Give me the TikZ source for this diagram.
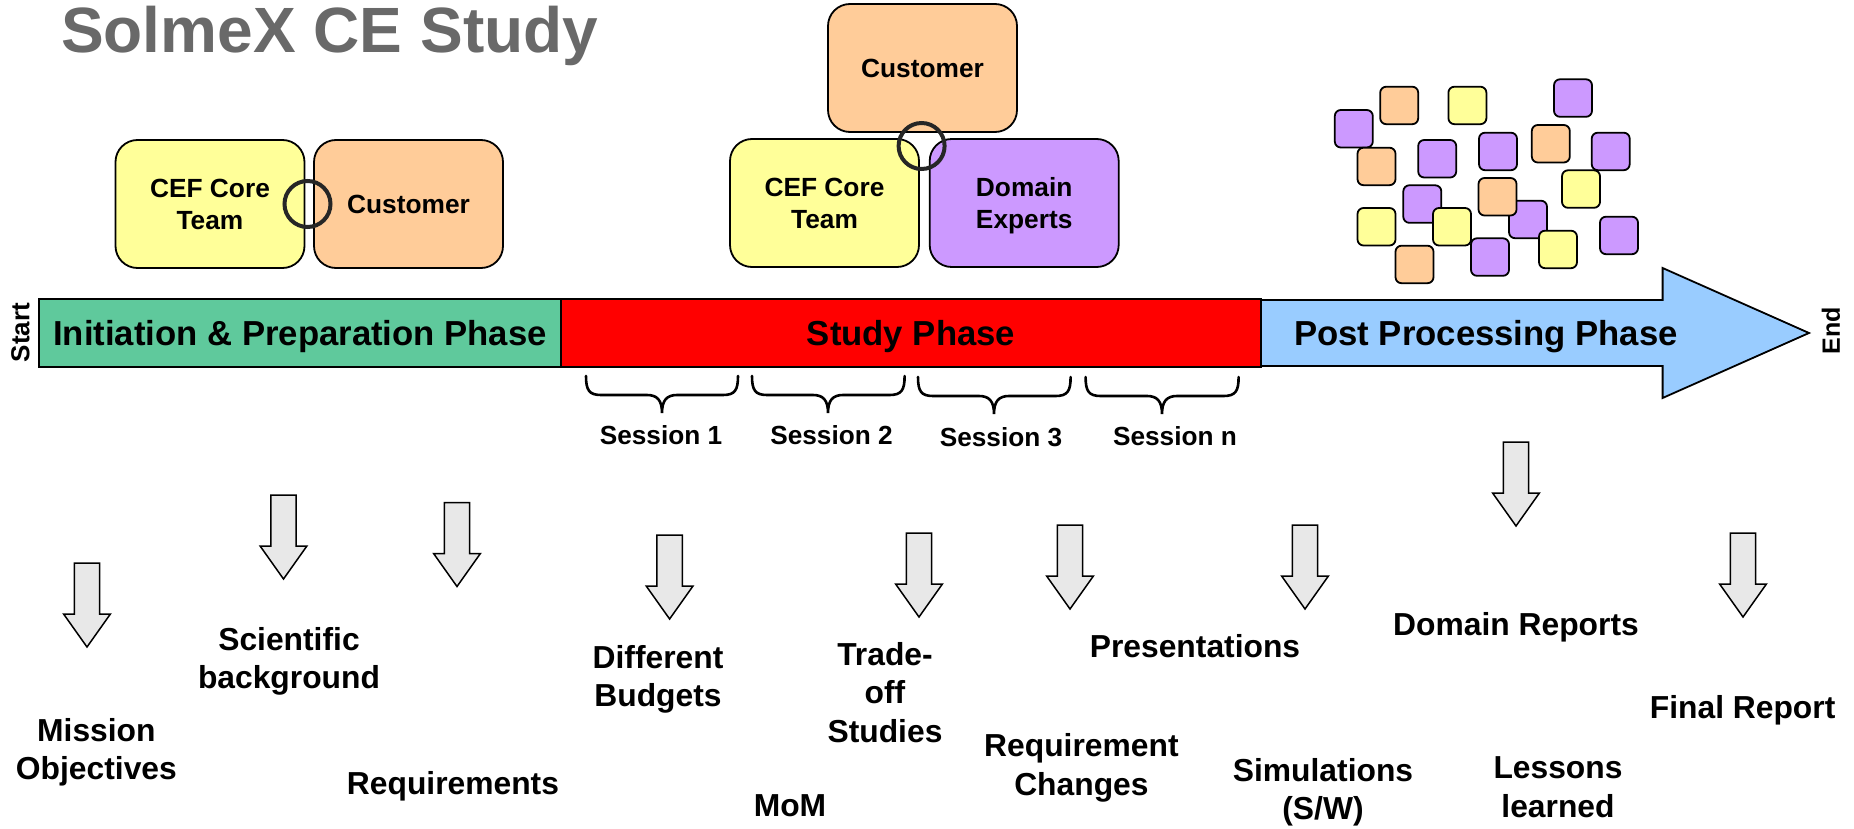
\documentclass[tikz,border=0pt]{standalone}
\usepackage{fontspec}
\setmainfont{Liberation Sans}
\definecolor{cy}{HTML}{FFFF99}
\definecolor{co}{HTML}{FFCC99}
\definecolor{cp}{HTML}{CC99FF}
\definecolor{cg}{HTML}{5FC99C}
\definecolor{cb}{HTML}{99CCFF}
\definecolor{ct}{HTML}{696969}
\definecolor{ca}{HTML}{E8E8E8}
\newcommand\ls{\rule[-.22em]{0pt}{1.156em}}
\newcommand\fsz[2]{\fontsize{#1}{#2}\selectfont\bfseries}
\newcommand\DArrow[2]{\draw[downarrow] ({#1-12.7},#2) -- ({#1+12.7},#2) -- ({#1+12.7},{#2+51}) -- ({#1+23.4},{#2+51}) -- (#1,{#2+84}) -- ({#1-23.4},{#2+51}) -- ({#1-12.7},{#2+51}) -- cycle;}
\newcommand\Brace[4]{\draw[bracepath] (#1,#4) .. controls (#1,{#4+14}) and ({#1+3},{#4+19}) .. ({#1+15},{#4+19}) -- ({#2-15},{#4+19}) .. controls ({#2-5},{#4+19}) and (#2,{#4+24}) .. (#2,{#4+37}) .. controls (#2,{#4+24}) and ({#2+5},{#4+19}) .. ({#2+15},{#4+19}) -- ({#3-15},{#4+19}) .. controls ({#3-3},{#4+19}) and (#3,{#4+14}) .. (#3,#4);}
\tikzset{
  team/.style={draw=black,line width=1.8pt,rounded corners=22pt,minimum width=189pt,minimum height=128pt,inner sep=0pt,outer sep=0pt,align=center,font=\fsz{26.3}{32}},
  joint/.style={circle,draw=black!85,line width=4pt,minimum size=46pt,inner sep=0pt,outer sep=0pt},
  chip/.style={draw=black,line width=1.8pt,rounded corners=6pt,minimum width=38pt,minimum height=37.5pt,inner sep=0pt,outer sep=0pt,anchor=north west},
  phase/.style={draw=black,line width=1.8pt,inner sep=0pt,outer sep=0pt,minimum height=68pt,font=\fsz{34.7}{40}},
  session/.style={inner sep=0pt,outer sep=0pt,font=\fsz{26.2}{32}},
  output/.style={inner sep=0pt,outer sep=0pt,align=center,font=\fsz{31.8}{38.4}},
  downarrow/.style={draw=black,fill=ca,line width=1.5pt,line join=miter},
  bracepath/.style={draw=black,line width=2.6pt,line cap=round}
}
\begin{document}
\begin{tikzpicture}[x=1pt,y=-1pt]
\useasboundingbox (0,0) rectangle (1854,829);
\fill[white] (0,0) rectangle (1854,829);
% title
\node[inner sep=0pt,text=ct,font=\fsz{64}{70},anchor=west] (title) at (61,30) {\ls SolmeX CE Study};
% left team
\node[team,fill=cy] (cef1) at (210,204) {\ls CEF Core\\Team\ls};
\node[team,fill=co] (cust1) at (408.5,204) {\ls Customer\ls};
\node[joint] (j1) at (307.5,204) {};
% middle team
\node[team,fill=co] (cust2) at (922.5,68) {\ls Customer\ls};
\node[team,fill=cy] (cef2) at (824.5,203) {\ls CEF Core\\Team\ls};
\node[team,fill=cp] (dom) at (1024.2,203) {\ls Domain\\Experts\ls};
\node[joint] (j2) at (921.6,146) {};
% chips
\node[chip,fill=cp] (s1) at (1334.8,110) {};
\node[chip,fill=co] (s2) at (1380.2,86.7) {};
\node[chip,fill=cy] (s3) at (1448.4,86.7) {};
\node[chip,fill=cp] (s4) at (1554,79.3) {};
\node[chip,fill=co] (s5) at (1357.5,147.7) {};
\node[chip,fill=cp] (s6) at (1418.2,140) {};
\node[chip,fill=cp] (s7) at (1479,132.7) {};
\node[chip,fill=co] (s8) at (1531.8,125) {};
\node[chip,fill=cp] (s9) at (1591.7,132.7) {};
\node[chip,fill=cy] (s10) at (1562,170.3) {};
\node[chip,fill=cp] (s11) at (1403.3,185.3) {};
\node[chip,fill=cy] (s12) at (1357.5,208) {};
\node[chip,fill=cy] (s13) at (1433,208) {};
\node[chip,fill=cp] (s14) at (1509,200.7) {};
\node[chip,fill=co] (s15) at (1478.5,178) {};
\node[chip,fill=cp] (s16) at (1471,238.3) {};
\node[chip,fill=cy] (s17) at (1539,230.7) {};
\node[chip,fill=cp] (s18) at (1600,216.7) {};
\node[chip,fill=co] (s19) at (1395.5,245.7) {};
% timeline
\draw[draw=black,line width=1.8pt,fill=cb,line join=miter] (1261,300) -- (1662.6,300) -- (1662.6,268) -- (1809,333) -- (1662.6,398) -- (1662.6,366) -- (1261,366) -- cycle;
\node[phase,fill=cg,minimum width=522pt] (init) at (300,333) {\ls Initiation \& Preparation Phase\ls};
\node[phase,fill=red,minimum width=700pt] (study) at (911,333) {\ls Study Phase\ls};
\node[inner sep=0pt,font=\fsz{34.7}{40}] (post) at (1486,333) {\ls Post Processing Phase\ls};
\node[rotate=90,inner sep=0pt,font=\fsz{26}{30}] (start) at (20,332.5) {\ls Start\ls};
\node[rotate=90,inner sep=0pt,font=\fsz{25}{30}] (end) at (1831,330.5) {\ls End\ls};
% braces
\Brace{586}{662}{738}{376}
\Brace{752}{828}{904.6}{376}
\Brace{918}{994}{1070.6}{377}
\Brace{1085.6}{1162}{1238.6}{377}
\node[session] (se1) at (661,435) {\ls Session 1\ls};
\node[session] (se2) at (831.5,435) {\ls Session 2\ls};
\node[session] (se3) at (1001,437) {\ls Session 3\ls};
\node[session] (sen) at (1175,436) {\ls Session n\ls};
% arrows
\DArrow{87}{563}
\DArrow{283.5}{495}
\DArrow{457}{502.5}
\DArrow{669.6}{535}
\DArrow{919}{533}
\DArrow{1070}{525}
\DArrow{1305}{525}
\DArrow{1516}{442}
\DArrow{1743}{533}
% outputs
\node[output] (o1) at (96.4,749) {\ls Mission\\Objectives\ls};
\node[output] (o2) at (289,658) {\ls Scientific\\background\ls};
\node[output] (o3) at (453,783) {\ls Requirements\ls};
\node[output] (o4) at (658,676) {\ls Different\\Budgets\ls};
\node[output] (o5) at (885,692.5) {\ls Trade-\\off\\Studies\ls};
\node[output] (o6) at (790,805) {\ls MoM\ls};
\node[output] (o7) at (1081.4,764.5) {\ls Requirement\\Changes\ls};
\node[output] (o8) at (1195,646) {\ls Presentations\ls};
\node[output] (o9) at (1323,789) {\ls Simulations\\(S/W)\ls};
\node[output] (o10) at (1516,624) {\ls Domain Reports\ls};
\node[output] (o11) at (1558,786.5) {\ls Lessons\\learned\ls};
\node[output] (o12) at (1742.6,707) {\ls Final Report\ls};
\end{tikzpicture}
\end{document}
